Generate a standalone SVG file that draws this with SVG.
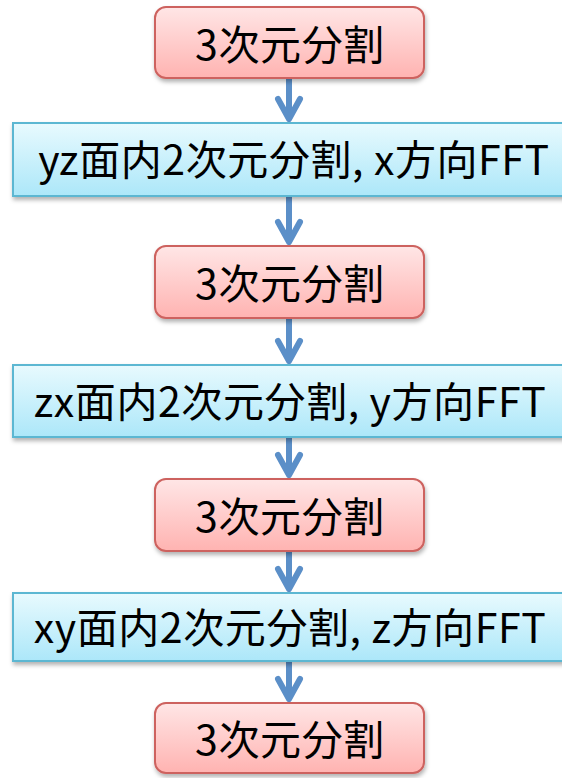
<svg xmlns="http://www.w3.org/2000/svg" width="562" height="778" viewBox="0 0 562 778">
  <defs>
    <linearGradient id="gPink" x1="0" y1="0" x2="0" y2="1">
      <stop offset="0" stop-color="#ffe6e6"/>
      <stop offset="1" stop-color="#ffb3b1"/>
    </linearGradient>
    <linearGradient id="gBlue" x1="0" y1="0" x2="0" y2="1">
      <stop offset="0" stop-color="#e8fafe"/>
      <stop offset="1" stop-color="#ace7f9"/>
    </linearGradient>
    <filter id="shadow" x="-10%" y="-20%" width="120%" height="150%">
      <feDropShadow dx="1" dy="3" stdDeviation="2" flood-color="#000" flood-opacity="0.3"/>
    </filter>
    <marker id="arrow" viewBox="-25 -15 28 30" refX="0" refY="0" markerWidth="28" markerHeight="30" orient="auto" markerUnits="userSpaceOnUse">
      <path d="M-20,-11 L0,0 L-20,11" fill="none" stroke="#5b8fc8" stroke-width="6" stroke-linecap="round" stroke-linejoin="round"/>
    </marker>
  </defs>
  <style>
    .pink { fill: url(#gPink); stroke: #cd625e; stroke-width: 2; filter: url(#shadow); }
    .blue { fill: url(#gBlue); stroke: #5bb7d2; stroke-width: 2; filter: url(#shadow); }
    .label { font-family: "Noto Sans CJK JP", "Noto Sans", sans-serif; font-size: 41px; letter-spacing: 0.6px; fill: #000; text-anchor: middle; }
    .conn { stroke: #5b8fc8; stroke-width: 6; fill: none; marker-end: url(#arrow); }
  </style>

  <g id="connectors">
    <line class="conn" x1="289" y1="79" x2="289" y2="119"/>
    <line class="conn" x1="289" y1="197" x2="289" y2="242"/>
    <line class="conn" x1="289" y1="319" x2="289" y2="361"/>
    <line class="conn" x1="289" y1="438" x2="289" y2="475"/>
    <line class="conn" x1="289" y1="552" x2="289" y2="589"/>
    <line class="conn" x1="289" y1="662" x2="289" y2="699"/>
  </g>

  <g id="node1">
    <rect class="pink" x="155" y="7" width="269" height="71" rx="11"/>
    <text class="label" x="290" y="60">3次元分割</text>
  </g>
  <g id="node2">
    <rect class="blue" x="13" y="123" width="560" height="73"/>
    <text class="label" x="294" y="175">yz面内2次元分割, x方向FFT</text>
  </g>
  <g id="node3">
    <rect class="pink" x="155" y="246" width="269" height="72" rx="11"/>
    <text class="label" x="290" y="299">3次元分割</text>
  </g>
  <g id="node4">
    <rect class="blue" x="13" y="365" width="560" height="72"/>
    <text class="label" x="290" y="417">zx面内2次元分割, y方向FFT</text>
  </g>
  <g id="node5">
    <rect class="pink" x="155" y="479" width="269" height="72" rx="11"/>
    <text class="label" x="290" y="532">3次元分割</text>
  </g>
  <g id="node6">
    <rect class="blue" x="13" y="593" width="560" height="68"/>
    <text class="label" x="290" y="643">xy面内2次元分割, z方向FFT</text>
  </g>
  <g id="node7">
    <rect class="pink" x="155" y="703" width="269" height="70" rx="11"/>
    <text class="label" x="290" y="755">3次元分割</text>
  </g>
</svg>
